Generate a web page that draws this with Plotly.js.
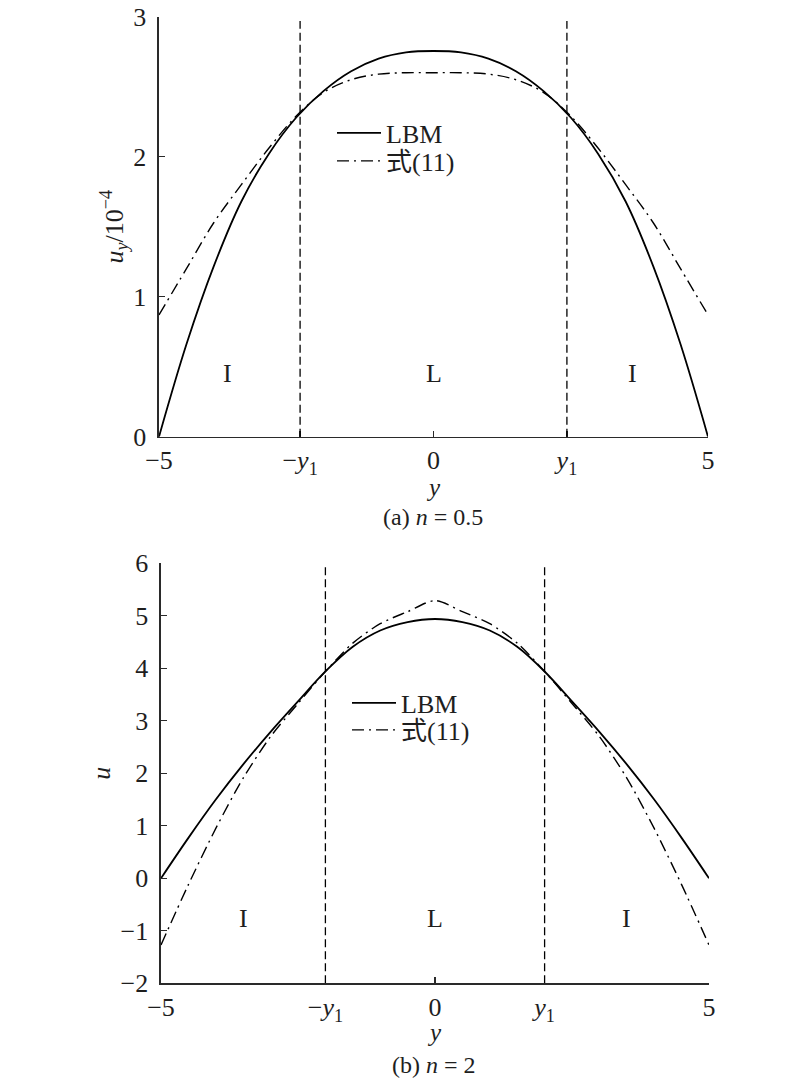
<!DOCTYPE html>
<html>
<head>
<meta charset="utf-8">
<script src="https://cdn.plot.ly/plotly-3.0.1.min.js"></script>
<style>html,body{margin:0;padding:0;background:#fff;}#chart{width:800px;height:1079px;}</style>
</head>
<body>
<div id="chart"></div>
<script>
// ---- shared abscissa (y) ----
const yGrid = [-5,-4.5,-4,-3.5,-3,-2.5,-2,-1.5,-1,-0.5,0,0.5,1,1.5,2,2.5,3,3.5,4,4.5,5];
// ---- data (a) n = 0.5  (u_y / 1e-4) ----
const lbmA = [0,0.66,1.22,1.68,2.02,2.28,2.47,2.61,2.70,2.745,2.755,2.745,2.70,2.61,2.47,2.28,2.02,1.68,1.22,0.66,0];
const eqA  = [0.87,1.20,1.53,1.80,2.06,2.29,2.46,2.55,2.59,2.60,2.60,2.60,2.59,2.55,2.46,2.29,2.06,1.80,1.53,1.20,0.87];
const y1A = 2.43;
// ---- data (b) n = 2  (u) ----
const lbmB = [0,0.77,1.50,2.17,2.79,3.37,3.94,4.41,4.72,4.88,4.94,4.88,4.72,4.41,3.94,3.37,2.79,2.17,1.50,0.77,0];
const eqB  = [-1.27,-0.12,0.95,1.91,2.70,3.33,3.94,4.48,4.85,5.08,5.29,5.08,4.85,4.48,3.94,3.33,2.70,1.91,0.95,-0.12,-1.27];
const y1B = 2.0;
// tick labels / texts
const xTickText = ['−5','−<i>y</i><sub>1</sub>','0','<i>y</i><sub>1</sub>','5'];
const yTicksA = [0,1,2,3];
const yTicksB = [-2,-1,0,1,2,3,4,5,6];
const regionLabels = ['I','L','I'];
const seriesNames = ['LBM','式(11)'];

const FONT = '"Liberation Serif", "Times New Roman", "Noto Sans CJK SC", serif';
const AX = '#2a2a2a';
const TXT = '#1e1e1e';

const solid = {color:'#000', width:1.8, shape:'spline', smoothing:1};
const dashdot = {color:'#000', width:1.4, dash:'12px,5px,2px,5px', shape:'spline', smoothing:1};

const traces = [
  {x:yGrid, y:lbmA, xaxis:'x', yaxis:'y', mode:'lines', name:seriesNames[0], line:solid, legend:'legend'},
  {x:yGrid, y:eqA, xaxis:'x', yaxis:'y', mode:'lines', name:seriesNames[1], line:dashdot, legend:'legend2'},
  {x:yGrid, y:lbmB, xaxis:'x2', yaxis:'y2', mode:'lines', name:seriesNames[0], line:solid, legend:'legend3'},
  {x:yGrid, y:eqB, xaxis:'x2', yaxis:'y2', mode:'lines', name:seriesNames[1], line:Object.assign({}, dashdot, {smoothing:0.8}), legend:'legend4'}
];

function xax(domain, anchor, y1){
  return {
    domain: domain, anchor: anchor, range:[-5,5], fixedrange:true,
    tickmode:'array', tickvals:[-5,-y1,0,y1,5], ticktext:xTickText,
    ticks:'inside', ticklen:6, tickwidth:1.3, tickcolor:AX,
    showline:true, linecolor:AX, linewidth:1.6, showgrid:false, zeroline:false,
    tickfont:{family:FONT, size:26, color:TXT}, ticklabelstandoff:0
  };
}
function yax(domain, anchor, range, ticks, title){
  return {
    domain: domain, anchor: anchor, range:range, fixedrange:true,
    tickmode:'array', tickvals:ticks,
    ticks:'inside', ticklen:6, tickwidth:1.3, tickcolor:AX,
    showline:true, linecolor:AX, linewidth:1.6, showgrid:false, zeroline:false,
    tickfont:{family:FONT, size:26, color:TXT}, ticklabelstandoff:6,
    title:{text:title, font:{family:FONT, size:26, color:TXT}, standoff:2}
  };
}
function leg(x, ypx){
  return {x:x, y:1-ypx/1079, xanchor:'left', yanchor:'middle', bgcolor:'rgba(0,0,0,0)',
          font:{family:FONT, size:26, color:TXT}, itemwidth:44};
}
function ann(xref, yref, x, y, text, size){
  return {xref:xref, yref:yref, x:x, y:y, text:text, showarrow:false, xanchor:'center', yanchor:'middle',
          font:{family:FONT, size:size||26, color:TXT}};
}

const layout = {
  width:800, height:1079, margin:{l:0,r:0,t:0,b:0},
  paper_bgcolor:'#fff', plot_bgcolor:'#fff', showlegend:true,
  font:{family:FONT, color:TXT},
  xaxis: xax([0.19875,0.885],'y', y1A),
  yaxis: yax([0.5953,0.9845],'x',[0,3], yTicksA, '<i>u</i><sub><i>y</i></sub>/10<sup>−4</sup>'),
  xaxis2: xax([0.20125,0.88625],'y2', y1B),
  yaxis2: yax([0.0887,0.4779],'x2',[-2,6], yTicksB, '<i>u</i>'),
  legend:  leg(332/800, 133),
  legend2: leg(332/800, 161),
  legend3: leg(347/800, 703),
  legend4: leg(347/800, 730),
  shapes:[
    {type:'line', xref:'x', yref:'y', x0:-y1A, x1:-y1A, y0:0, y1:2.97, line:{color:'#000', width:1.3, dash:'8px,4px'}},
    {type:'line', xref:'x', yref:'y', x0:y1A, x1:y1A, y0:0, y1:2.97, line:{color:'#000', width:1.3, dash:'8px,4px'}},
    {type:'line', xref:'x2', yref:'y2', x0:-y1B, x1:-y1B, y0:-2, y1:5.96, line:{color:'#000', width:1.3, dash:'8px,4px'}},
    {type:'line', xref:'x2', yref:'y2', x0:y1B, x1:y1B, y0:-2, y1:5.96, line:{color:'#000', width:1.3, dash:'8px,4px'}}
  ],
  annotations:[
    ann('x','y', -3.75, 0.45, regionLabels[0]),
    ann('x','y', 0, 0.45, regionLabels[1]),
    ann('x','y', 3.62, 0.45, regionLabels[2]),
    ann('x2','y2', -3.49, -0.76, regionLabels[0]),
    ann('x2','y2', 0, -0.76, regionLabels[1]),
    ann('x2','y2', 3.5, -0.76, regionLabels[2]),
    ann('paper','paper', 433/800, 1-487/1079, '<i>y</i>', 25),
    ann('paper','paper', 434/800, 1-1032/1079, '<i>y</i>', 25),
    ann('paper','paper', 433/800, 1-517/1079, '(a) <i>n</i> = 0.5', 24),
    ann('paper','paper', 434/800, 1-1065/1079, '(b) <i>n</i> = 2', 24)
  ]
};

Plotly.newPlot('chart', traces, layout, {staticPlot:true, displayModeBar:false});
</script>
</body>
</html>
